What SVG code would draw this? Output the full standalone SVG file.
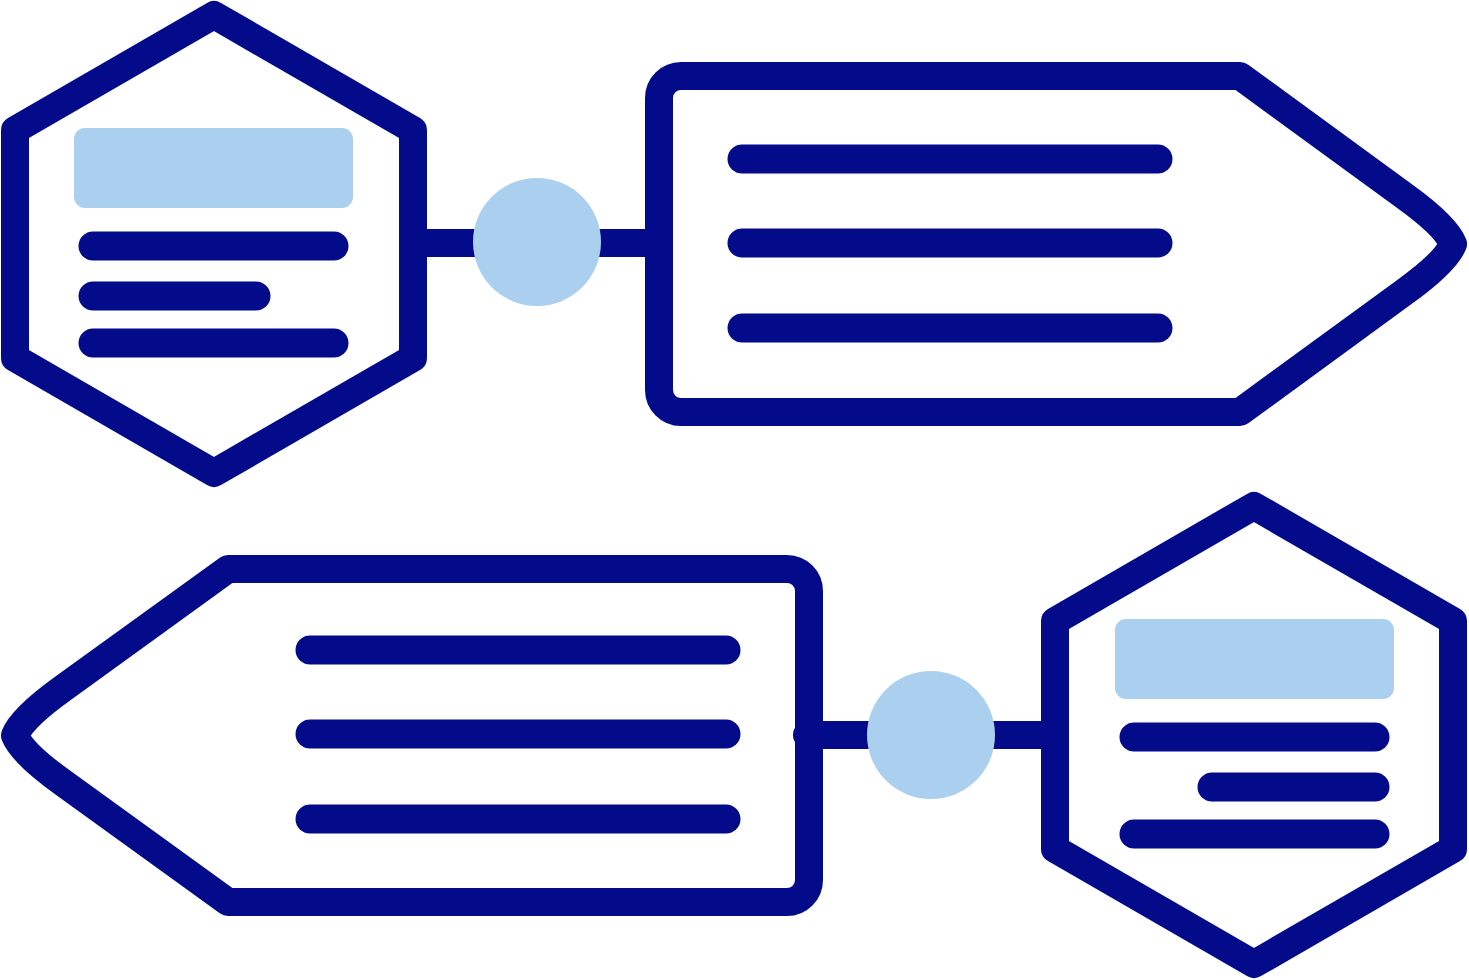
<svg xmlns="http://www.w3.org/2000/svg" width="1469" height="980" viewBox="0 0 1469 980">
  <style>
    .outline { fill: none; stroke: #030b8b; stroke-width: 28; stroke-linejoin: round; }
    .bar { stroke: #030b8b; stroke-width: 29; stroke-linecap: round; }
    .conn { stroke: #030b8b; stroke-width: 28; }
    .light { fill: #abd0ef; }
  </style>
  <rect width="1469" height="980" fill="#ffffff"/>
  <g id="connectors">
    <line class="conn" x1="413" y1="243" x2="659" y2="243"/>
    <line class="conn" x1="807" y1="735" x2="1055" y2="735" stroke-linecap="round"/>
    <circle class="light" cx="537" cy="242" r="64"/>
    <circle class="light" cx="931" cy="735" r="64"/>
  </g>
  <g id="hex-top-left">
    <polygon class="outline" points="214,15 413,130 413,358 214,473 15,358 15,130"/>
    <rect class="light" x="74" y="128" width="279" height="80" rx="11"/>
    <line class="bar" x1="93" y1="246" x2="334" y2="246"/>
    <line class="bar" x1="93" y1="296" x2="256" y2="296"/>
    <line class="bar" x1="93" y1="343" x2="334" y2="343"/>
  </g>
  <g id="tag-top-right">
    <path class="outline" d="M681,76 L1240,76 L1404.4,196 Q1446,226 1453,244 Q1446,262 1404.4,292 L1240,412 L681,412 A22,22 0 0 1 659,390 L659,98 A22,22 0 0 1 681,76 Z"/>
    <line class="bar" x1="742" y1="159" x2="1158" y2="159"/>
    <line class="bar" x1="742" y1="243" x2="1158" y2="243"/>
    <line class="bar" x1="742" y1="328" x2="1158" y2="328"/>
  </g>
  <g id="tag-bottom-left">
    <path class="outline" d="M787,569 L228,569 L63.6,687.9 Q22,717.7 15,735.5 Q22,753.3 63.6,783.1 L228,902 L787,902 A22,22 0 0 0 809,880 L809,591 A22,22 0 0 0 787,569 Z"/>
    <line class="bar" x1="310" y1="650" x2="726" y2="650"/>
    <line class="bar" x1="310" y1="734" x2="726" y2="734"/>
    <line class="bar" x1="310" y1="819" x2="726" y2="819"/>
  </g>
  <g id="hex-bottom-right">
    <polygon class="outline" points="1254,506 1453,621 1453,849 1254,964 1055,849 1055,621"/>
    <rect class="light" x="1115" y="619" width="279" height="80" rx="11"/>
    <line class="bar" x1="1134" y1="737" x2="1375" y2="737"/>
    <line class="bar" x1="1212" y1="787" x2="1375" y2="787"/>
    <line class="bar" x1="1134" y1="834" x2="1375" y2="834"/>
  </g>
</svg>
